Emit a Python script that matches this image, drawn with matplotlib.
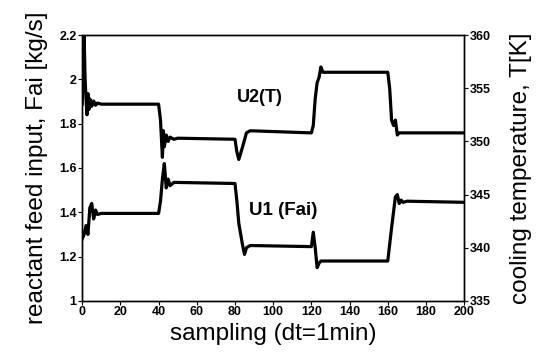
import matplotlib
matplotlib.use("Agg")
import matplotlib.pyplot as plt

plt.rcParams['font.family'] = ['Liberation Sans', 'DejaVu Sans']

# U2: cooling temperature T [K] (right axis)
t_u2 = [0, 1, 1.5, 2, 2.5, 3, 3.5, 4, 5, 6, 7, 8, 10, 40, 41, 42, 42.5, 43, 44, 45,
        46, 48, 50, 80, 81, 82, 84, 86, 88, 120, 121, 122, 123, 124, 125, 126,
        160, 161, 162, 163, 164, 165, 166, 200]
u2 = [353.5, 360, 356, 354, 352.5, 354.5, 353, 354, 353.3, 353.8, 353.4, 353.6, 353.5,
      353.5, 352, 348.5, 351, 349.5, 350.6, 350, 350.4, 350.2, 350.3, 350.2, 349,
      348.3, 349.5, 350.8, 351.0, 350.8, 351.5, 354, 355.5, 356, 357, 356.5, 356.5,
      355, 352, 351.5, 352, 350.6, 350.8, 350.8]

# U1: reactant feed input Fai [kg/s] (left axis)
t_u1 = [0, 1, 2, 3, 4, 5, 6, 7, 8, 10, 40, 41, 42, 43, 44, 45, 46, 48, 80, 81, 82,
        84, 85, 86, 88, 120, 121, 122, 123, 124, 125, 127, 160, 162, 164, 165, 166,
        167, 168, 170, 200]
u1 = [1.28, 1.30, 1.34, 1.30, 1.42, 1.44, 1.37, 1.41, 1.39, 1.395, 1.395, 1.45, 1.55,
      1.62, 1.51, 1.55, 1.52, 1.535, 1.53, 1.45, 1.35, 1.25, 1.21, 1.24, 1.25, 1.245,
      1.31, 1.24, 1.15, 1.17, 1.18, 1.18, 1.18, 1.33, 1.47, 1.48, 1.44, 1.455, 1.445,
      1.45, 1.445]

left_ticks = [1, 1.2, 1.4, 1.6, 1.8, 2, 2.2]
left_labels = ["1", "1.2", "1.4", "1.6", "1.8", "2", "2.2"]
right_ticks = [335, 340, 345, 350, 355, 360]
x_ticks = list(range(0, 201, 20))

fig = plt.figure(figsize=(5.48, 3.54), dpi=100)
ax = fig.add_axes([0.150, 0.150, 0.697, 0.751])
ax2 = ax.twinx()

ax.plot(t_u1, u1, color='black', lw=2.3)
ax2.plot(t_u2, u2, color='black', lw=2.3)

ax.set_xlim(0, 200)
ax.set_ylim(1, 2.2)
ax2.set_ylim(335, 360)

ax.set_xticks(x_ticks)
ax.set_yticks(left_ticks)
ax.set_yticklabels(left_labels)
ax2.set_yticks(right_ticks)

for a in (ax, ax2):
    a.tick_params(direction='out', length=3, width=0.8, labelsize=9, pad=1)
    for lab in a.get_xticklabels() + a.get_yticklabels():
        lab.set_fontweight('bold')
    for s in a.spines.values():
        s.set_linewidth(1.0)

ax.set_xlabel("sampling (dt=1min)", fontsize=17.5, labelpad=3)
ax.set_ylabel("reactant feed input, Fai [kg/s]", fontsize=17.5, labelpad=8)
ax2.set_ylabel("cooling temperature, T[K]", fontsize=17.5, labelpad=14)

ax.text(93, 1.92, "U2(T)", fontsize=13, fontweight='bold', ha='center', va='center')
ax.text(105, 1.41, "U1 (Fai)", fontsize=13.5, fontweight='bold', ha='center', va='center')

fig.savefig("out.png", dpi=100)
